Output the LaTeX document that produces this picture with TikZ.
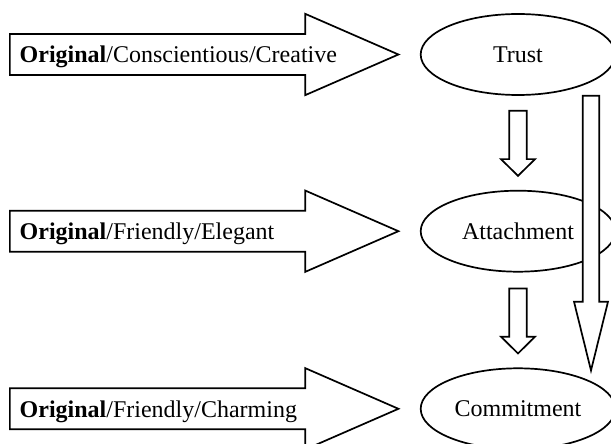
\documentclass[tikz,border=0pt]{standalone}
\usepackage{fontspec}
\setmainfont{Liberation Serif}
\usetikzlibrary{shapes.geometric,calc}

\begin{document}
\begin{tikzpicture}[
  x=0.5pt, y=-0.5pt,
  construct/.style = {ellipse, draw, line width=0.85pt, minimum width=97.3pt,
                      minimum height=40.5pt, inner sep=0pt, font=\fontsize{12}{14}\selectfont},
  block/.style     = {draw, line width=0.85pt, fill=white, line join=miter},
  driver/.style    = {anchor=base west, inner sep=0pt, font=\fontsize{12}{14}\selectfont},
]
\useasboundingbox (0,0) rectangle (611,444);
\clip (0,0) rectangle (611,444);

% ── Constructs ───────────────────────────────────────────────
\node[construct] (trust)  at (518,54.5)  {Trust};
\node[construct] (attach) at (518,231.2) {Attachment};
\node[construct] (commit) at (518,408.8) {Commitment};

% ── Block arrows into the constructs ─────────────────────────
\foreach \n in {trust,attach,commit}
  \draw[block] (\n.west) ++(-21.4,0) -- ++(-93.3,-40.7) -- ++(0,20.2) -- ++(-295.3,0)
               -- ++(0,41) -- ++(295.3,0) -- ++(0,20.2) -- cycle;

\node[driver] (dTrust)  at (19.3,62.7)  {\textbf{Original}/Conscientious/Creative};
\node[driver] (dAttach) at (19.3,240.0) {\textbf{Original}/Friendly/Elegant};
\node[driver] (dCommit) at (19.3,417.7) {\textbf{Original}/Friendly/Charming};

% ── Downward steps ───────────────────────────────────────────
\foreach \n in {attach,commit}
  \draw[block] (\n.north) ++(0,-14) -- ++(-17,-16.7) -- ++(8.3,0) -- ++(0,-48.3)
               -- ++(17.4,0) -- ++(0,48.3) -- ++(8.3,0) -- cycle;

% ── Direct path Trust -> Commitment ──────────────────────────
\coordinate (tip) at (591,370.5);
\draw[block] (tip) -- ++(-17,-68.8) -- ++(8.7,0) -- ++(0,-206) -- ++(16.6,0)
             -- ++(0,206) -- ++(8.7,0) -- cycle;

\end{tikzpicture}
\end{document}
